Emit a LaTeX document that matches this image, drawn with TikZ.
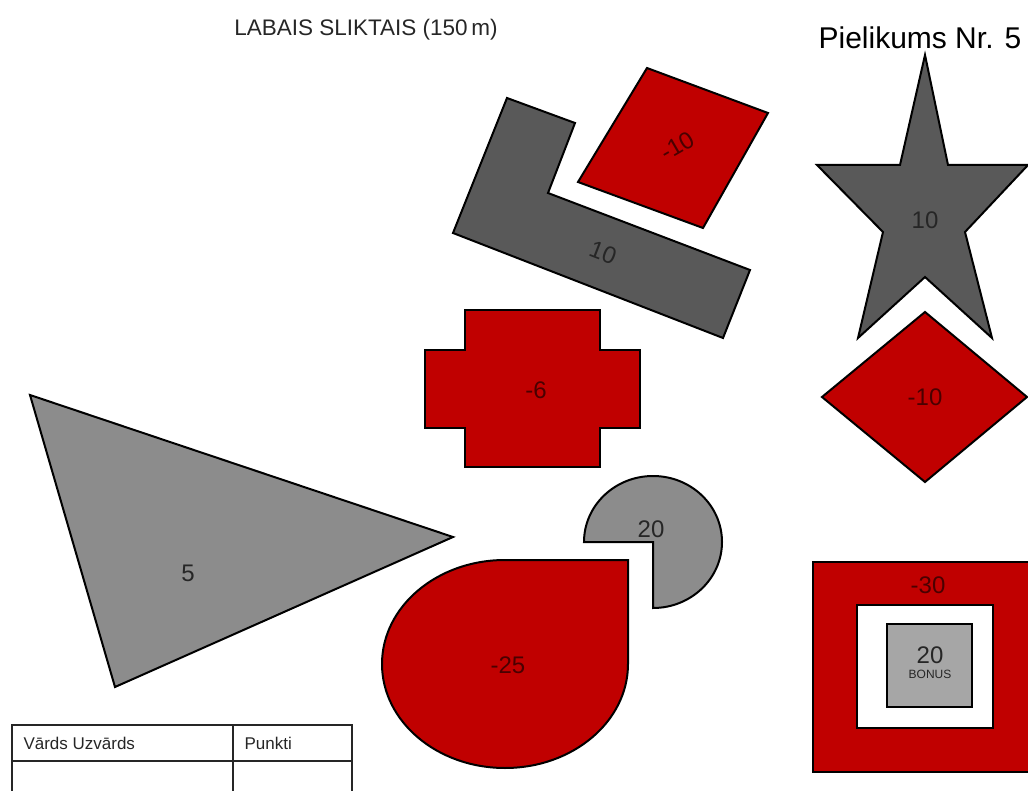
\documentclass[tikz,border=0pt]{standalone}
\usepackage{fontspec}
\setmainfont{Liberation Sans}
\usetikzlibrary{positioning}
\definecolor{slred}{HTML}{C00000}
\definecolor{sldark}{HTML}{595959}
\definecolor{slgrey}{HTML}{8C8C8C}
\definecolor{slbonus}{HTML}{A6A6A6}
\definecolor{sltext}{HTML}{262626}
\definecolor{slredtext}{HTML}{4A0000}

\begin{document}
\begin{tikzpicture}[x=1pt,y=-1pt,
      piece/.style={draw=black,line width=2pt,line join=miter},
      redpiece/.style={piece,fill=slred},
      darkpiece/.style={piece,fill=sldark},
      greypiece/.style={piece,fill=slgrey},
      lbl/.style={font=\fontsize{24pt}{26pt}\selectfont,text=sltext,inner sep=0pt},
      redlbl/.style={lbl,text=slredtext},
      tbl/.style={draw=sltext,line width=1.8pt}]
    \useasboundingbox (0,0) rectangle (1028,791);
    % headings
    \node[text=sltext,font=\fontsize{22.5pt}{24pt}\selectfont] (title) at (366,30) {LABAIS SLIKTAIS (150\,m)};
    \node[text=black,font=\fontsize{30pt}{32pt}\selectfont] (annex) at (920,38) {Pielikums Nr. 5};
    % L piece and rhombus
    \draw[darkpiece] (507,98) -- (575,123) -- (548,193) -- (750,270) -- (723,338) -- (453,233) -- cycle;
    \node[lbl,rotate=-21] (lval) at (603,253) {10};
    \draw[redpiece] (647,68) -- (768,113) -- (703,228) -- (578,182) -- cycle;
    \node[redlbl,rotate=30] (rhval) at (677,146) {-10};
    % star and diamond
    \draw[darkpiece] (925,55) -- (948,165) -- (1028,165) -- (965,232) -- (992,338) -- (925,277)
      -- (858,338) -- (883,232) -- (817,165) -- (900,165) -- cycle;
    \node[lbl] (starval) at (925,220) {10};
    \draw[redpiece] (925,312) -- (1027,397) -- (925,482) -- (822,397) -- cycle;
    \node[redlbl] (diaval) at (925,397) {-10};
    % cross
    \draw[redpiece] (465,310) -- (600,310) -- (600,350) -- (640,350) -- (640,428) -- (600,428)
      -- (600,467) -- (465,467) -- (465,428) -- (425,428) -- (425,350) -- (465,350) -- cycle;
    \node[redlbl] (crossval) at (536,390) {-6};
    % triangle
    \draw[greypiece] (30,395) -- (453,537) -- (115,687) -- cycle;
    \node[lbl] (trival) at (188,573) {5};
    % pie and teardrop
    \draw[greypiece] (653,542) -- (584,542) arc[start angle=180,end angle=450,x radius=69,y radius=66] -- cycle;
    \node[lbl] (pieval) at (651,529) {20};
    \draw[redpiece] (628,560) -- (628,664) arc[start angle=0,end angle=270,x radius=123,y radius=104] -- cycle;
    \node[redlbl] (dropval) at (508,665) {-25};
    % target with bonus
    \draw[redpiece] (813,562) rectangle (1040,772);
    \draw[piece,fill=white] (857,605) rectangle (993,728);
    \draw[piece,fill=slbonus] (887,624) rectangle (972,707);
    \node[redlbl] (targetval) at (928,585) {-30};
    \node[lbl] (bonusval) at (930,655) {20};
    \node[text=sltext,inner sep=0pt,font=\fontsize{12pt}{13pt}\selectfont,below=6pt of bonusval] (bonus) {BONUS};
    % score table
    \draw[tbl] (12,725) rectangle (352,800);
    \draw[tbl] (12,761) -- (352,761);
    \draw[tbl] (233,725) -- (233,800);
    \node[anchor=west,text=sltext,font=\fontsize{17pt}{18pt}\selectfont] (namecell) at (20,743) {Vārds Uzvārds};
    \node[anchor=west,text=sltext,font=\fontsize{17pt}{18pt}\selectfont] (pointcell) at (241,743) {Punkti};
  \end{tikzpicture}
\end{document}
